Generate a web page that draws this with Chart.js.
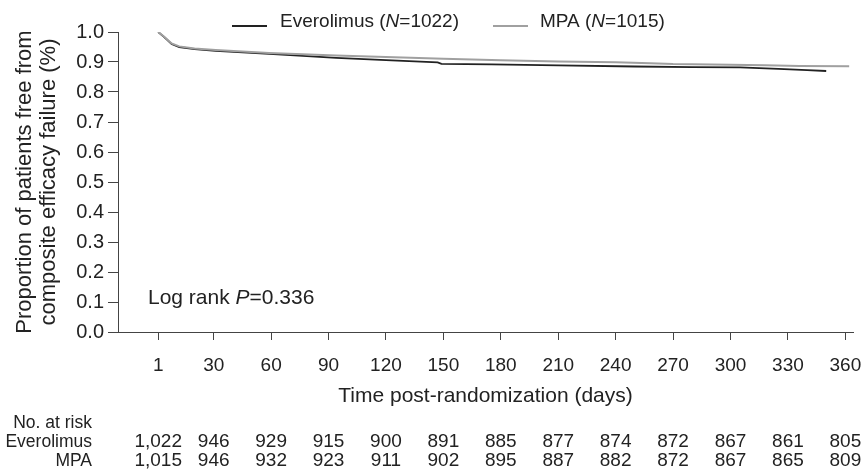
<!DOCTYPE html>
<html>
<head>
<meta charset="utf-8">
<script src="https://cdn.jsdelivr.net/npm/chart.js@4"></script>
<style>
  html, body { margin: 0; padding: 0; background: #fff; }
  #wrap { width: 863px; height: 472px; }
</style>
</head>
<body>
<div id="wrap"><canvas id="km" width="863" height="472"></canvas></div>
<script>
// survival curves (day, proportion)
var everoDays = [1, 4, 8, 12, 20, 31, 59, 94, 120, 147, 149, 175, 210, 250, 280, 305, 325, 340, 350];
var everoSurv = [1.0, 0.984, 0.96, 0.95, 0.943, 0.937, 0.927, 0.914, 0.906, 0.899, 0.894, 0.892, 0.889, 0.885, 0.883, 0.882, 0.877, 0.873, 0.870];
var mpaDays = [1, 4, 8, 12, 20, 31, 59, 94, 120, 150, 180, 210, 240, 258, 270, 300, 318, 336, 362];
var mpaSurv = [1.0, 0.985, 0.962, 0.952, 0.945, 0.94, 0.93, 0.922, 0.917, 0.911, 0.906, 0.902, 0.899, 0.896, 0.893, 0.891, 0.889, 0.887, 0.886];

var xTicks = [1, 30, 60, 90, 120, 150, 180, 210, 240, 270, 300, 330, 360];
var everoRisk = [1022, 946, 929, 915, 900, 891, 885, 877, 874, 872, 867, 861, 805];
var mpaRisk = [1015, 946, 932, 923, 911, 902, 895, 887, 882, 872, 867, 865, 809];

var FONT = 'Liberation Sans, Arial, sans-serif';

function pts(days, vals) {
  return days.map(function(d, i) { return { x: d, y: vals[i] }; });
}

// draw text pieces, some italic, starting at x
function drawRuns(ctx, runs, x, y, size) {
  runs.forEach(function(r) {
    ctx.font = (r.it ? 'italic ' : '') + size + 'px ' + FONT;
    ctx.fillText(r.t, x, y);
    x += ctx.measureText(r.t).width;
  });
}

var extras = {
  id: 'extras',
  afterDraw: function(chart) {
    var ctx = chart.ctx;
    var xs = chart.scales.x, ys = chart.scales.y;
    ctx.save();
    ctx.fillStyle = '#222';
    ctx.textBaseline = 'middle';
    ctx.textAlign = 'left';

    // legend
    ctx.lineWidth = 2;
    ctx.strokeStyle = '#222';
    ctx.beginPath(); ctx.moveTo(232, 26); ctx.lineTo(267, 26); ctx.stroke();
    drawRuns(ctx, [{t: 'Everolimus ('}, {t: 'N', it: true}, {t: '=1022)'}], 280, 22, 19);
    ctx.strokeStyle = '#a0a0a0';
    ctx.beginPath(); ctx.moveTo(493, 26); ctx.lineTo(528, 26); ctx.stroke();
    drawRuns(ctx, [{t: 'MPA ('}, {t: 'N', it: true}, {t: '=1015)'}], 540, 22, 19);

    // log rank
    drawRuns(ctx, [{t: 'Log rank '}, {t: 'P', it: true}, {t: '=0.336'}],
      chart.chartArea.left + 30, ys.getPixelForValue(0.113), 21);

    // number at risk
    ctx.font = '17.5px ' + FONT;
    ctx.textAlign = 'right';
    ctx.fillText('No. at risk', 92, 423);
    ctx.fillText('Everolimus', 92, 442);
    ctx.fillText('MPA', 92, 461);
    ctx.font = '19px ' + FONT;
    ctx.textAlign = 'center';
    xTicks.forEach(function(d, i) {
      var px = xs.getPixelForValue(d);
      ctx.fillText(everoRisk[i].toLocaleString('en-US'), px, 442);
      ctx.fillText(mpaRisk[i].toLocaleString('en-US'), px, 461);
    });
    ctx.restore();
  }
};

new Chart(document.getElementById('km'), {
  type: 'line',
  data: {
    datasets: [{
      label: 'MPA',
      data: pts(mpaDays, mpaSurv),
      borderColor: '#a0a0a0',
      borderWidth: 2,
      pointRadius: 0,
      tension: 0
    }, {
      label: 'Everolimus',
      data: pts(everoDays, everoSurv),
      borderColor: '#222',
      borderWidth: 1.8,
      pointRadius: 0,
      tension: 0
    }]
  },
  options: {
    responsive: false,
    animation: false,
    layout: { padding: { top: 32, right: 10, bottom: 60, left: 0 } },
    plugins: {
      legend: { display: false },
      tooltip: { enabled: false }
    },
    scales: {
      x: {
        type: 'linear',
        min: -20,
        max: 364,
        afterBuildTicks: function(scale) {
          scale.ticks = xTicks.map(function(v) { return { value: v }; });
        },
        afterFit: function(scale) {
          scale.height = 80;
          scale.paddingLeft = 0;
          scale.paddingRight = 0;
        },
        ticks: {
          autoSkip: false,
          maxRotation: 0,
          padding: 14,
          color: '#222',
          font: { family: FONT, size: 19 }
        },
        grid: { drawOnChartArea: false, tickLength: 8, color: '#444' },
        border: { display: true, color: '#444', width: 1 },
        title: {
          display: true,
          text: 'Time post-randomization (days)',
          color: '#222',
          font: { family: FONT, size: 21, lineHeight: 1.2 },
          padding: { top: 0, bottom: 3 }
        }
      },
      y: {
        min: 0,
        max: 1,
        afterFit: function(scale) { scale.width = 118; },
        ticks: {
          stepSize: 0.1,
          padding: 4,
          color: '#222',
          font: { family: FONT, size: 20 },
          callback: function(v) { return v.toFixed(1); }
        },
        grid: { drawOnChartArea: false, tickLength: 10, color: '#444' },
        border: { display: true, color: '#444', width: 1 },
        title: {
          display: true,
          text: ['Proportion of patients free from', 'composite efficacy failure (%)'],
          color: '#222',
          font: { family: FONT, size: 22, lineHeight: 1.1 },
          padding: { top: 13, bottom: 0 }
        }
      }
    }
  },
  plugins: [extras]
});
</script>
</body>
</html>
